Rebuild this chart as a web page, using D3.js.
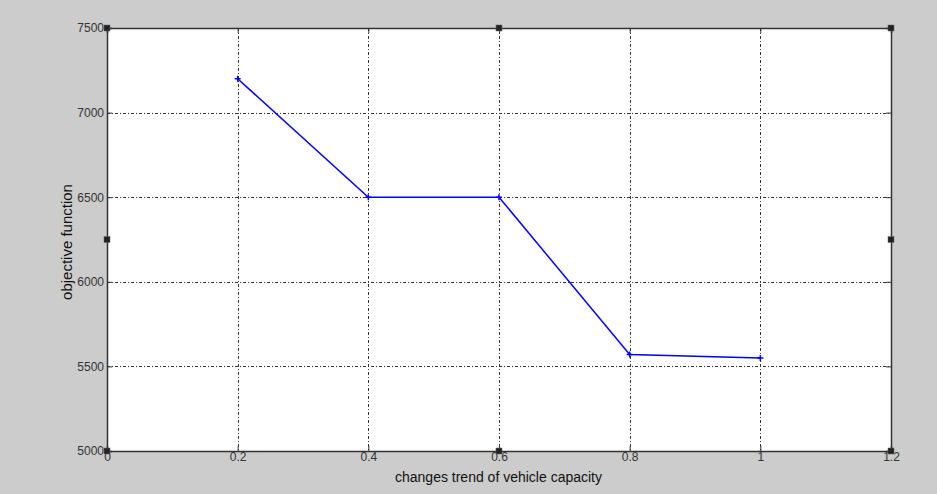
<!DOCTYPE html>
<html><head><meta charset="utf-8">
<script src="https://cdn.jsdelivr.net/npm/d3@7"></script>
<style>body{margin:0;background:#cccccc;} text{font-family:"Liberation Sans",Arial,sans-serif;}</style>
</head><body>
<svg id="c" width="937" height="494"></svg>
<script>
const xValues = [0.2, 0.4, 0.6, 0.8, 1.0];
const yValues = [7200, 6500, 6500, 5570, 5550];
const xTicks = [0, 0.2, 0.4, 0.6, 0.8, 1, 1.2];
const yTicks = [5000, 5500, 6000, 6500, 7000, 7500];
const xLabel = "changes trend of vehicle capacity";
const yLabel = "objective function";

const svg = d3.select("#c");
const L = 107, R = 891, T = 28, B = 451;
svg.append("rect").attr("width",937).attr("height",494).attr("fill","#cccccc");
const x = d3.scaleLinear().domain([0,1.2]).range([L,R]);
const y = d3.scaleLinear().domain([5000,7500]).range([B,T]);

svg.append("rect").attr("x",L).attr("y",T).attr("width",R-L).attr("height",B-T).attr("fill","#fff");

// grid
const g = svg.append("g");
g.selectAll(".gx").data(xTicks.slice(1,-1)).join("line")
  .attr("x1",d=>Math.round(x(d))+0.5).attr("x2",d=>Math.round(x(d))+0.5).attr("y1",T).attr("y2",B)
  .attr("stroke","#333").attr("stroke-dasharray","3,2,1,2");
g.selectAll(".gy").data(yTicks.slice(1,-1)).join("line")
  .attr("y1",d=>Math.round(y(d))+0.5).attr("y2",d=>Math.round(y(d))+0.5).attr("x1",L).attr("x2",R)
  .attr("stroke","#333").attr("stroke-dasharray","3,2,1,2");

// axes
const xAxis = d3.axisBottom(x).tickValues(xTicks).tickFormat(d=>String(d)).tickSize(-5).tickPadding(4);
const yAxis = d3.axisLeft(y).tickValues(yTicks).tickFormat(d=>String(d)).tickSize(-5).tickPadding(3);
const gxA = svg.append("g").attr("transform",`translate(0,${B})`).call(xAxis);
const gyA = svg.append("g").attr("transform",`translate(${L},0)`).call(yAxis);
svg.append("g").attr("transform",`translate(0,${T})`).call(d3.axisTop(x).tickValues(xTicks).tickFormat("").tickSize(-5));
svg.append("g").attr("transform",`translate(${R},0)`).call(d3.axisRight(y).tickValues(yTicks).tickFormat("").tickSize(-5));
svg.selectAll(".domain").attr("stroke","#333").attr("stroke-width",1.5);
svg.selectAll(".tick line").attr("stroke","#333");
svg.selectAll(".tick text").attr("fill","#333").attr("font-size",12).attr("font-family","Liberation Sans, Arial, sans-serif");
gxA.selectAll(".tick text").attr("dy","0.5em");

// line
const line = d3.line().x((d,i)=>x(xValues[i])).y(d=>y(d));
svg.append("path").datum(yValues).attr("d",line).attr("fill","none").attr("stroke","#0000ff").attr("stroke-width",1.5);
const m = svg.append("g").selectAll("g").data(yValues).join("g")
  .attr("transform",(d,i)=>`translate(${x(xValues[i])},${y(d)})`);
m.append("path").attr("d","M-3,0H3M0,-3V3").attr("stroke","#0000ff").attr("stroke-width",1.5);

// handles
const hx = [L,(L+R)/2,R], hy=[T,(T+B)/2,B];
const handles=[];
hx.forEach((a,i)=>hy.forEach((b,j)=>{ if(!(i===1&&j===1)) handles.push([a,b]); }));
svg.append("g").selectAll("rect").data(handles).join("rect")
  .attr("x",d=>d[0]-3).attr("y",d=>d[1]-3).attr("width",6).attr("height",6)
  .attr("fill","#222").attr("stroke","#666").attr("stroke-width",0.5);

// labels
svg.append("text").attr("x",(395+602)/2).attr("y",482).attr("text-anchor","middle")
  .attr("font-size",14).attr("fill","#111").text(xLabel);
svg.append("text").attr("transform",`translate(72,242) rotate(-90)`).attr("text-anchor","middle")
  .attr("font-size",15).attr("fill","#111").text(yLabel);
</script>
</body></html>
